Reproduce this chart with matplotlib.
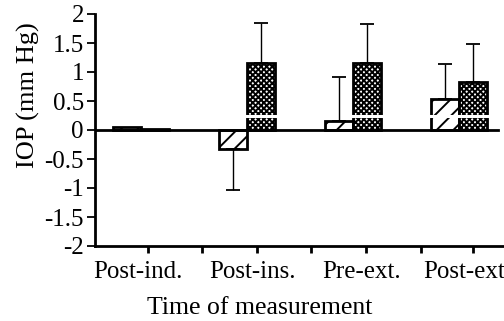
import matplotlib
matplotlib.use("Agg")
import matplotlib.pyplot as plt
import numpy as np

categories = ["Post-ind.", "Post-ins.", "Pre-ext.", "Post-ext."]
hatched = [0.05, -0.32, 0.15, 0.54]
hatched_err = [0.0, 0.71, 0.77, 0.60]
cross = [0.02, 1.15, 1.15, 0.83]
cross_err = [0.0, 0.70, 0.68, 0.66]
yticks = [-2, -1.5, -1, -0.5, 0, 0.5, 1, 1.5, 2]
ytick_labels = ["-2", "-1.5", "-1", "-0.5", "0", "0.5", "1", "1.5", "2"]

plt.rcParams['font.family'] = ['Liberation Serif', 'DejaVu Serif']
plt.rcParams['axes.unicode_minus'] = False
plt.rcParams['hatch.linewidth'] = 1.4

fig = plt.figure(figsize=(5.04, 3.21), dpi=100)
W, H = 504, 321
axw = W - 95
axh = 246 - 14
ax = fig.add_axes([95 / W, (H - 246) / H, axw / W, axh / H])

x = np.arange(len(categories))
w = 0.265
ax.bar(x - w / 2, hatched, w, facecolor='white', edgecolor='black',
       linewidth=2, hatch='//', zorder=2)
ax.bar(x + w / 2, cross, w, facecolor='white', edgecolor='black',
       linewidth=2, hatch='xxxxxx', zorder=2)

# error bars only in the direction of the bar
for xi, v, e in zip(x - w / 2, hatched, hatched_err):
    if e > 0:
        lo, hi = (0, e) if v >= 0 else (e, 0)
        ax.errorbar(xi, v, yerr=[[lo], [hi]], fmt='none', ecolor='black',
                    elinewidth=1, capsize=5, capthick=1.3, zorder=4)
for xi, v, e in zip(x + w / 2, cross, cross_err):
    if e > 0:
        lo, hi = (0, e) if v >= 0 else (e, 0)
        ax.errorbar(xi, v, yerr=[[lo], [hi]], fmt='none', ecolor='black',
                    elinewidth=1, capsize=5, capthick=1.3, zorder=4)

# white scan stripe across the bars
ax.hlines(0.24, x[1] - w - 0.02, x[-1] + w + 0.02, color='white', lw=2.2, zorder=3)
ax.axhline(0, color='black', lw=2, xmax=0.985, zorder=3)

ax.set_xlim(-0.434, -0.434 + axw / 106)
ax.set_ylim(-2, 2)
ax.set_yticks(yticks)
ax.set_yticklabels(ytick_labels)
ax.set_xticks([-0.03, 1.047, 2.08, 3.08])
ax.set_xticklabels(categories)
ax.set_xticks([0.066, 0.575, 1.09, 1.604, 2.123, 2.642, 3.132], minor=True)
ax.tick_params(axis='x', which='major', length=0, pad=11, labelsize=18)
ax.tick_params(axis='x', which='minor', length=5, width=2, direction='out')
ax.tick_params(axis='y', length=6, width=1.3, direction='out', labelsize=18, pad=2)

for s in ['top', 'right']:
    ax.spines[s].set_visible(False)
ax.spines['left'].set_linewidth(2)
ax.spines['bottom'].set_linewidth(2)

ax.set_ylabel("IOP (mm Hg)", fontsize=19)
ax.yaxis.set_label_coords((40 - 95) / axw, (246 - 95) / axh)
ax.set_xlabel("Time of measurement", fontsize=18.5)
ax.xaxis.set_label_coords((260 - 95) / axw, -(297 - 246) / axh)

fig.savefig("out.png", dpi=100)
